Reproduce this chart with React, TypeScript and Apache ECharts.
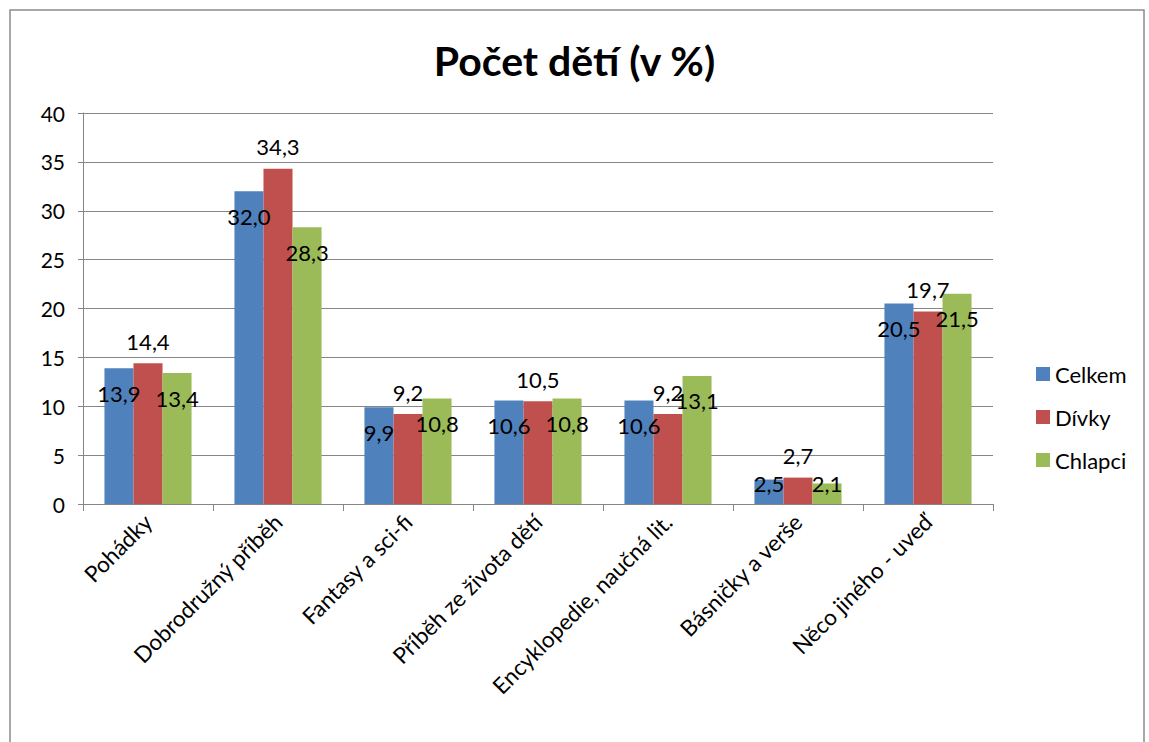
import React, { useEffect, useRef } from "react";
import * as echarts from "echarts";

const categories = [
  "Pohádky",
  "Dobrodružný příběh",
  "Fantasy a sci-fi",
  "Příběh ze života dětí",
  "Encyklopedie, naučná lit.",
  "Básničky a verše",
  "Něco jiného - uveď",
];
const celkem = [13.9, 32.0, 9.9, 10.6, 10.6, 2.5, 20.5];
const divky = [14.4, 34.3, 9.2, 10.5, 9.2, 2.7, 19.7];
const chlapci = [13.4, 28.3, 10.8, 10.8, 13.1, 2.1, 21.5];
const seriesNames = ["Celkem", "Dívky", "Chlapci"];
const colors = ["#4F81BD", "#C0504D", "#9BBB59"];

const FONT = "Lato, 'Noto Sans', sans-serif";
const fmt = (v: number) => v.toFixed(1).replace(".", ",");

const insideData = (arr: number[]) =>
  arr.map((v) =>
    v < 5
      ? { value: v, label: { position: "insideBottom", distance: 10 } }
      : { value: v }
  );

export default function App() {
  const ref = useRef<HTMLDivElement>(null);
  useEffect(() => {
    if (!ref.current) return;
    const chart = echarts.init(ref.current, null, { renderer: "svg" });
    const labelBase = {
      show: true,
      color: "#000",
      fontFamily: FONT,
      fontSize: 22,
      formatter: (p: any) => fmt(p.value),
    };
    chart.setOption({
      animation: false,
      backgroundColor: "#fff",
      color: colors,
      title: {
        text: "Počet dětí (v %)",
        left: "center",
        top: 35,
        textStyle: { fontFamily: FONT, fontWeight: "bold", fontSize: 41, color: "#000" },
      },
      graphic: [
        {
          type: "rect",
          shape: { x: 10, y: 10, width: 1134, height: 740 },
          style: { fill: "none", stroke: "#8c8c8c", lineWidth: 1.5 },
          silent: true,
        },
      ],
      legend: {
        orient: "vertical",
        left: 1031,
        top: 358,
        itemWidth: 14,
        itemHeight: 14,
        itemGap: 21,
        icon: "rect",
        data: seriesNames,
        textStyle: { fontFamily: FONT, fontSize: 22, color: "#000" },
      },
      grid: { left: 83, right: 156, top: 113, bottom: 238, containLabel: false },
      xAxis: {
        type: "category",
        data: categories,
        axisLine: { lineStyle: { color: "#868686", width: 1 } },
        axisTick: { show: true, length: 7, lineStyle: { color: "#868686" } },
        axisLabel: {
          interval: 0,
          rotate: 45,
          margin: 14,
          fontFamily: FONT,
          fontSize: 22.5,
          color: "#000",
        },
      },
      yAxis: {
        type: "value",
        min: 0,
        max: 40,
        interval: 5,
        axisLine: { show: true, lineStyle: { color: "#868686", width: 1 } },
        axisTick: { show: true, length: 5, lineStyle: { color: "#868686" } },
        axisLabel: { margin: 18, fontFamily: FONT, fontSize: 21, color: "#000" },
        splitLine: { show: true, lineStyle: { color: "#868686", width: 1 } },
      },
      series: [
        {
          name: seriesNames[0],
          type: "bar",
          data: insideData(celkem),
          barGap: "0%",
          barCategoryGap: "33%",
          label: { ...labelBase, position: "insideTop", distance: 14 },
        },
        {
          name: seriesNames[1],
          type: "bar",
          data: divky,
          barGap: "0%",
          barCategoryGap: "33%",
          label: { ...labelBase, position: "top", distance: 11 },
        },
        {
          name: seriesNames[2],
          type: "bar",
          data: insideData(chlapci),
          barGap: "0%",
          barCategoryGap: "33%",
          label: { ...labelBase, position: "insideTop", distance: 14 },
        },
      ],
    });
    return () => chart.dispose();
  }, []);
  return (
    <div
      ref={ref}
      style={{ position: "fixed", left: 0, top: 0, width: 1149, height: 742 }}
    />
  );
}
